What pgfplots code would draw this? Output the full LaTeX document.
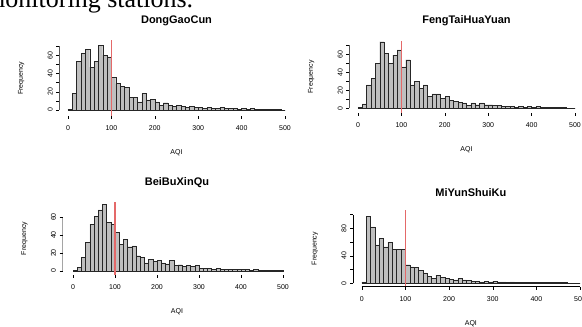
\documentclass[border=0pt]{standalone}
\usepackage{pgfplots}
\pgfplotsset{compat=1.18}
\usepackage{fontspec}
\setmainfont{Liberation Sans}
\newfontfamily\seriffont{Liberation Serif}
\definecolor{barfill}{gray}{0.75}
\definecolor{refred}{RGB}{228,105,105}
\tikzset{axisline/.style={black, line width=0.4pt}}
\pgfplotsset{
  rhist/.style={
    scale only axis,
    anchor=south west,
    axis line style={draw=none},
    tick align=outside,
    tick pos=left,
    major tick length=3pt,
    xtick={0,100,...,500},
    tick style={black, line width=0.4pt},
    ticklabel style={font=\fontsize{7}{8}\selectfont},
    /pgf/number format/assume math mode=true,
    xticklabel style={anchor=center},
    xticklabel shift=9pt,
    yticklabel style={anchor=center, rotate=90},
    yticklabel shift=6pt,
    xlabel={AQI},
    ylabel={Frequency},
    every axis x label/.style={at={(axis description cs:0.5,0)}, anchor=center, yshift=-37pt, font=\fontsize{7}{8}\selectfont},
    every axis y label/.style={at={(axis description cs:0,0.5)}, xshift=-38pt, rotate=90, anchor=center, font=\fontsize{7}{8}\selectfont},
    every axis title/.style={at={(axis description cs:0.5,1)}, anchor=center, font=\bfseries\fontsize{11}{12}\selectfont},
  },
  histbar/.style={ybar interval, fill=barfill, draw=black!85, line width=0.35pt},
  refline/.style={draw=refred, solid, line width=1.3pt, mark=none, forget plot},
}
\begin{document}
\begin{tikzpicture}
\path[use as bounding box] (0pt,0pt) rectangle (582pt,327pt);
\node[anchor=base west, inner sep=0pt, font=\seriffont\fontsize{26}{28}\selectfont] at (-15pt,319pt) {monitoring stations.};

% Panel 1
\begin{axis}[rhist, at={(59.3pt,211pt)}, width=234.4pt, height=75.5pt,
  xmin=-20, xmax=520, ymin=-6.5, ymax=76,
  ytick={0,10,20,30,40,50,60,70}, yticklabels={0,,20,,40,,60,},
  title={DongGaoCun}, title style={yshift=19.5pt}]
\addplot[histbar] coordinates {(0,1)(10,18)(20,53)(30,62)(40,66)(50,47)(60,53)(70,71)(80,60)(90,58)(100,36)(110,29)(120,26)(130,25)(140,14)(150,14)(160,9)(170,18)(180,11)(190,12)(200,9)(210,5)(220,8)(230,5)(240,4)(250,5)(260,4)(270,3)(280,4)(290,3)(300,3)(310,2)(320,3)(330,2)(340,2)(350,3)(360,2)(370,2)(380,2)(390,1)(400,2)(410,1)(420,2)(430,1)(440,1)(450,1)(460,1)(470,1)(480,1)(490,0)(500,0)};
\addplot[refline] coordinates {(100,-6.5)(100,76)};
\draw[axisline] (axis cs:0,-6.5) -- (axis cs:500,-6.5);
\draw[axisline] (axis cs:-20,0) -- (axis cs:-20,70);
\end{axis}

% Panel 2
\begin{axis}[rhist, at={(349.3pt,214pt)}, width=234.4pt, height=72.2pt,
  xmin=-20, xmax=520, ymin=-5.2, ymax=75,
  ytick={0,10,20,30,40,50,60,70}, yticklabels={0,,20,,40,,60,},
  title={FengTaiHuaYuan}, title style={yshift=20pt}]
\addplot[histbar] coordinates {(0,1)(10,5)(20,26)(30,33)(40,50)(50,74)(60,61)(70,50)(80,59)(90,65)(100,46)(110,54)(120,26)(130,30)(140,22)(150,26)(160,13)(170,16)(180,16)(190,11)(200,13)(210,9)(220,8)(230,7)(240,6)(250,3)(260,6)(270,4)(280,6)(290,4)(300,4)(310,3)(320,3)(330,2)(340,2)(350,2)(360,1)(370,2)(380,1)(390,2)(400,1)(410,2)(420,1)(430,1)(440,1)(450,1)(460,1)(470,1)(480,0)(490,0)(500,0)};
\addplot[refline] coordinates {(100,-5.2)(100,75)};
\draw[axisline] (axis cs:0,-5.2) -- (axis cs:500,-5.2);
\draw[axisline] (axis cs:-20,0) -- (axis cs:-20,70);
\end{axis}

% Panel 3
\begin{axis}[rhist, at={(62.5pt,52pt)}, width=228.9pt, height=73pt,
  xmin=-25, xmax=520, ymin=-4.4, ymax=76.7,
  ytick={0,20,40,60},
  title={BeiBuXinQu}, title style={yshift=19pt}]
\addplot[histbar] coordinates {(0,1)(10,4)(20,15)(30,32)(40,52)(50,61)(60,68)(70,74)(80,54)(90,52)(100,43)(110,30)(120,35)(130,27)(140,28)(150,17)(160,15)(170,9)(180,13)(190,11)(200,12)(210,9)(220,8)(230,12)(240,6)(250,7)(260,5)(270,6)(280,5)(290,6)(300,3)(310,3)(320,3)(330,2)(340,3)(350,2)(360,2)(370,2)(380,2)(390,2)(400,2)(410,2)(420,1)(430,2)(440,1)(450,1)(460,1)(470,1)(480,1)(490,1)(500,0)};
\addplot[refline] coordinates {(100,-4.4)(100,76.7)};
\draw[axisline] (axis cs:0,-4.4) -- (axis cs:500,-4.4);
\draw[axisline] (axis cs:-25,0) -- (axis cs:-25,60);
\end{axis}

% Panel 4
\begin{axis}[rhist, at={(353pt,40.3pt)}, width=235.8pt, height=76.3pt,
  xmin=-20, xmax=520, ymin=-5, ymax=106,
  ytick={0,20,40,60,80,100}, yticklabels={0,,40,,80,},
  title={MiYunShuiKu}, title style={yshift=17.4pt}]
\addplot[histbar] coordinates {(0,2)(10,97)(20,82)(30,56)(40,65)(50,53)(60,60)(70,49)(80,49)(90,49)(100,27)(110,24)(120,23)(130,19)(140,15)(150,10)(160,7)(170,12)(180,9)(190,7)(200,6)(210,5)(220,7)(230,5)(240,4)(250,3)(260,3)(270,2)(280,3)(290,2)(300,3)(310,2)(320,2)(330,1)(340,2)(350,1)(360,1)(370,1)(380,1)(390,1)(400,1)(410,1)(420,1)(430,1)(440,1)(450,1)(460,1)(470,0)(480,0)(490,0)(500,0)};
\addplot[refline] coordinates {(100,-5)(100,106)};
\draw[axisline] (axis cs:0,-5) -- (axis cs:500,-5);
\draw[axisline] (axis cs:-20,0) -- (axis cs:-20,100);
\end{axis}
\end{tikzpicture}
\end{document}
